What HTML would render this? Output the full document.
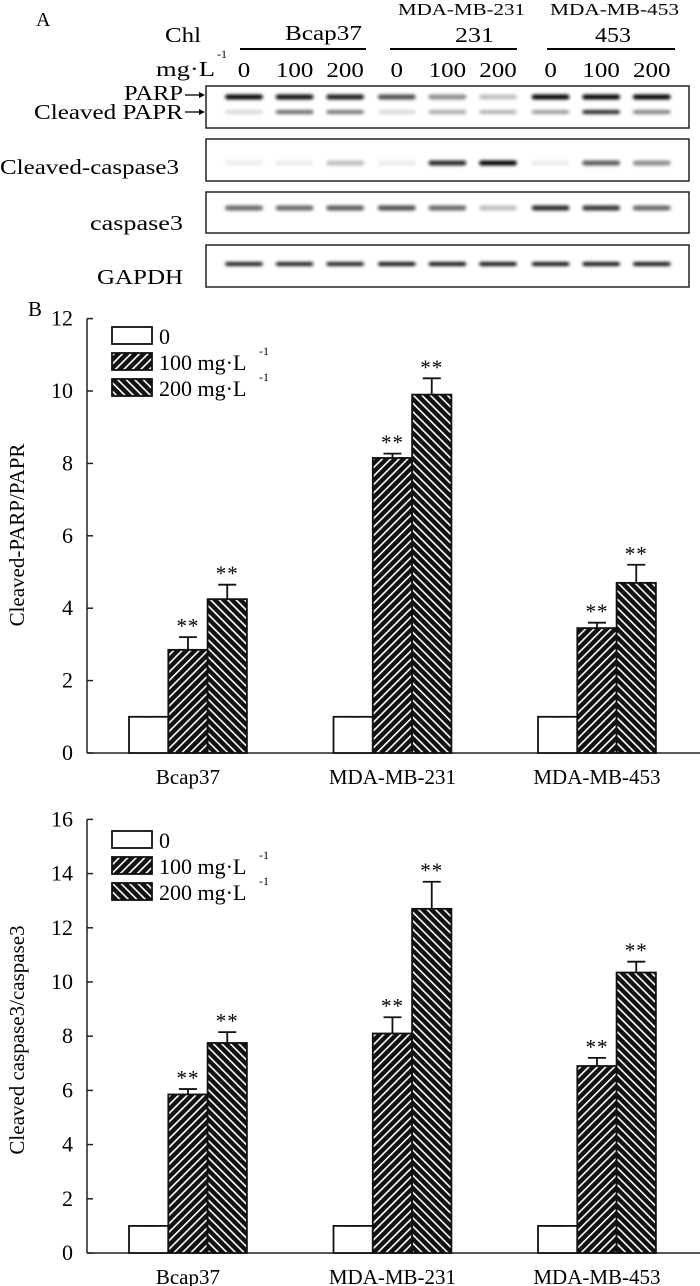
<!DOCTYPE html>
<html><head><meta charset="utf-8"><style>
body{margin:0;background:#fff;}
svg{display:block;font-family:"Liberation Serif",serif;}
</style></head><body>
<svg width="700" height="1286" viewBox="0 0 700 1286" xmlns="http://www.w3.org/2000/svg">
<defs>
<pattern id="p100" patternUnits="userSpaceOnUse" width="6" height="6" patternTransform="rotate(45)">
<rect width="6" height="6" fill="#111"/><rect x="0" y="0" width="1.6" height="6" fill="#fff"/></pattern>
<pattern id="p200" patternUnits="userSpaceOnUse" width="6" height="6" patternTransform="rotate(-45)">
<rect width="6" height="6" fill="#111"/><rect x="0" y="0" width="1.6" height="6" fill="#fff"/></pattern>
<filter id="blur" x="-20%" y="-100%" width="140%" height="300%"><feGaussianBlur stdDeviation="1.6"/></filter>
</defs>
<g id="blot"></g>
<g id="chart1"></g>
<g id="chart2"></g>
</svg>
<script>
const NS='http://www.w3.org/2000/svg';
const categories=['Bcap37','MDA-MB-231','MDA-MB-453'];
const seriesNames=['0','100 mg·L','200 mg·L'];
const parp0=[1,1,1];
const parp100=[2.85,8.15,3.45];
const parp200=[4.25,9.9,4.7];
const parpErr100=[0.35,0.12,0.15];
const parpErr200=[0.4,0.45,0.5];
const casp0=[1,1,1];
const casp100=[5.85,8.1,6.9];
const casp200=[7.75,12.7,10.35];
const caspErr100=[0.2,0.6,0.3];
const caspErr200=[0.4,1.0,0.4];
const parpTicks=[0,2,4,6,8,10,12];
const caspTicks=[0,2,4,6,8,10,12,14,16];
const laneLabels=['0','100','200','0','100','200','0','100','200'];
const bandParp=[1,0.95,0.9,0.7,0.45,0.25,1,1,1];
const bandCleavedParp=[0.15,0.6,0.55,0.15,0.35,0.3,0.4,0.85,0.5];
const bandCC3=[0.08,0.08,0.25,0.08,0.85,1,0.08,0.65,0.45];
const bandC3=[0.6,0.6,0.65,0.7,0.6,0.25,0.85,0.8,0.6];
const bandGapdh=[0.9,0.9,0.9,0.95,0.95,0.95,0.95,0.95,0.95];

function mk(tag,attrs,parent,text){const e=document.createElementNS(NS,tag);for(const k in attrs)e.setAttribute(k,attrs[k]);if(text!==undefined)e.textContent=text;parent.appendChild(e);return e;}
function fit(x,y,w,size,str,parent){return mk('text',{x:x,y:y,'font-size':size,textLength:w,lengthAdjust:'spacingAndGlyphs'},parent,str);}

// ---- Blot ----
const blot=document.getElementById('blot');
let t;
t=mk('text',{x:36,y:26,'font-size':20},blot,'A');
t=fit(165,42,36,21,'Chl',blot);
t=fit(156,76,59,21,'mg·L',blot);
mk('text',{x:217,y:58,'font-size':12},blot,'-1');
const groupLines=[[240,366],[390,517],[547,675]];
groupLines.forEach(g=>{const l=mk('line',{x1:g[0],x2:g[1],y1:49,y2:49,stroke:'#000','stroke-width':2},blot);});
t=fit(285,40,77,21,'Bcap37',blot);
t=fit(398,15,127,17,'MDA-MB-231',blot);
t=fit(455,42,39,21,'231',blot);
t=fit(550,15,129,17,'MDA-MB-453',blot);
t=fit(595,42,36,21,'453',blot);
const laneX=i=>244+i*50.6+ (i>=3?1:0)+(i>=6?2:0);
laneLabels.forEach((s,i)=>{const w=s.length*12.5;const e=fit(laneX(i)-w/2,77,w,21,s,blot);});
const boxes=[[86,128],[139,181],[192,233],[245,287]];
boxes.forEach(b=>{const r=mk('rect',{x:206,y:b[0],width:483,height:b[1]-b[0],fill:'#fff',stroke:'#222','stroke-width':1.5},blot);});
function bands(arr,y,h){arr.forEach((v,i)=>{const r=mk('rect',{x:laneX(i)-19,y:y-h/2,width:38,height:h,rx:3,fill:'#000','fill-opacity':v,filter:'url(#blur)'},blot);});}
bands(bandParp,97,5);bands(bandCleavedParp,112,4);bands(bandCC3,163,5);bands(bandC3,208,5);bands(bandGapdh,264,4);
const lbl=[['PARP',124,59,100],['Cleaved PAPR',34,149,119],['Cleaved-caspase3',0,179,174],['caspase3',90,93,230],['GAPDH',97,86,284]];
lbl.forEach(l=>{const e=fit(l[1],l[3],l[2],21,l[0],blot);});
[[95],[112]].forEach(a=>{mk('line',{x1:185,x2:200,y1:a[0],y2:a[0],stroke:'#000','stroke-width':1.3},blot);mk('path',{d:`M199 ${a[0]-3} L205 ${a[0]} L199 ${a[0]+3}Z`,fill:'#000'},blot);});
t=mk('text',{x:28,y:316,'font-size':21},blot,'B');

// ---- Charts ----
function chart(gid,y0,pxPerUnit,ticks,v0,v1,v2,e1,e2,title,titleY,legendY){
  const g=document.getElementById(gid);
  const ax=87, xEnd=700;
  const Y=v=>y0-v*pxPerUnit;
  const top=Y(ticks[ticks.length-1]);
  let e=mk('line',{x1:ax,x2:ax,y1:top,y2:y0,stroke:'#222','stroke-width':1.5},g);
  e=mk('line',{x1:ax,x2:xEnd,y1:y0,y2:y0,stroke:'#222','stroke-width':1.5},g);
  ticks.forEach(tv=>{mk('line',{x1:ax,x2:ax+6,y1:Y(tv),y2:Y(tv),stroke:'#222','stroke-width':1.5},g);
    const tt=mk('text',{x:ax-14,y:Y(tv)+7,'font-size':22,'text-anchor':'end'},g,String(tv));});
  const tl=mk('text',{x:0,y:0,'font-size':21,'text-anchor':'middle',transform:`translate(24 ${titleY}) rotate(-90)`},g,title);
  
  const bw=39.3;
  categories.forEach((c,i)=>{
    const gx=129+i*204.5;
    const vals=[v0[i],v1[i],v2[i]];const errs=[0,e1[i],e2[i]];const fills=['#fff','url(#p100)','url(#p200)'];
    vals.forEach((v,j)=>{
      const x=gx+j*bw;
      const r=mk('rect',{x:x,y:Y(v),width:bw,height:v*pxPerUnit,fill:fills[j],stroke:'#111','stroke-width':1.8},g);
      
      const cx=x+bw/2;
      if(j===0){mk('line',{x1:cx-7,x2:cx+7,y1:Y(v),y2:Y(v),stroke:'#111','stroke-width':1.5},g);}
      else{
        const ey=Y(v+errs[j]);
        const eb=mk('path',{d:`M${cx} ${Y(v)} V${ey} M${cx-9} ${ey} H${cx+9}`,stroke:'#111','stroke-width':1.8,fill:'none'},g);
        
        const s=mk('text',{x:cx,y:ey-4,'font-size':21,'text-anchor':'middle','letter-spacing':'1'},g,'**');
        
      }
    });
    const xl=mk('text',{x:gx+bw*1.5,y:y0+31,'font-size':21,'text-anchor':'middle'},g,c);
    
  });
  const lf=['#fff','url(#p100)','url(#p200)'];
  seriesNames.forEach((s,k)=>{
    const ly=legendY+k*26;
    const r=mk('rect',{x:112,y:ly,width:40,height:17,fill:lf[k],stroke:'#111','stroke-width':1.8},g);
    
    const tx=mk('text',{x:159,y:ly+17,'font-size':22},g,s);
    if(k>0)mk('text',{x:259,y:ly+2,'font-size':12},g,'-1');
  });
}
chart('chart1',753,36.2,parpTicks,parp0,parp100,parp200,parpErr100,parpErr200,'Cleaved-PARP/PAPR',535,327);
chart('chart2',1253,27.1,caspTicks,casp0,casp100,casp200,caspErr100,caspErr200,'Cleaved caspase3/caspase3',1040,831);
</script>
</body></html>
